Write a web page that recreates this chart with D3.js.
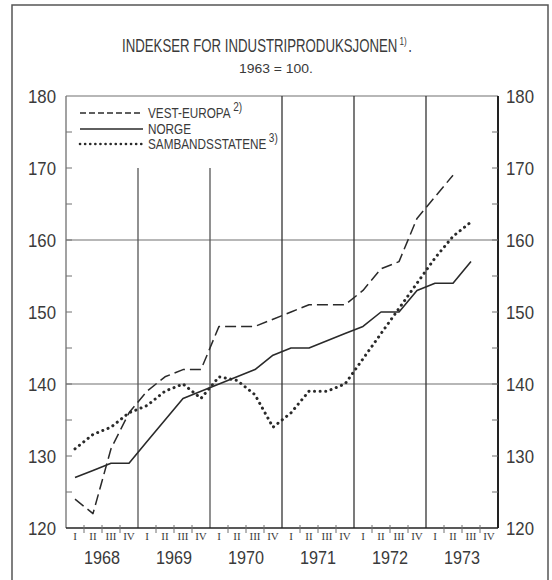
<!DOCTYPE html>
<html><head><meta charset="utf-8">
<script src="https://cdn.jsdelivr.net/npm/d3@7"></script>
<style>
html,body{margin:0;padding:0;background:#fff;}
text{font-family:"Liberation Sans","DejaVu Sans Condensed",sans-serif;fill:#3a3a3a;}
text.q{font-family:"Liberation Serif","DejaVu Serif",serif;}
</style></head>
<body>
<svg id="chart" width="552" height="580"></svg>
<script>
const years = [1968, 1969, 1970, 1971, 1972, 1973];
const quarters = ["I", "II", "III", "IV"];
const yTicks = [120, 130, 140, 150, 160, 170, 180];
const seriesNames = ["VEST-EUROPA", "NORGE", "SAMBANDSSTATENE"];
const seriesNotes = ["2)", "", "3)"];
const vestEuropa = [124,122,131,136, 139,141,142,142, 148,148,148,149, 150,151,151,151, 153,156,157,163, 166,169];
const norge = [127,128,129,129, 132,135,138,139, 140,141,142,144, 145,145,146,147, 148,150,150,153, 154,154,157];
const sambandsstatene = [131,133,134,136, 137,139,140,138, 141,140.5,138.5,134, 136,139,139,140, 143.5,147,150.5,154, 157.5,160.5,162.5];

const svg = d3.select("#chart");
const x = d3.scaleLinear().domain([0, years.length * 4]).range([66, 498]);
const y = d3.scaleLinear().domain([120, 180]).range([528, 96]);
const ink = "#2a2a2a", grid = "#707070";

function ctext(parent, str, px, py, size, len, anchor) {
  const t = parent.append("text").attr("x", px).attr("y", py)
    .attr("text-anchor", anchor || "start").style("font-size", size + "px").text(str);
  if (len) t.attr("textLength", len).attr("lengthAdjust", "spacingAndGlyphs");
  return t;
}
function noted(parent, str, note, px, py, size, sx, noteSize, tail) {
  const t = parent.append("text").attr("x", 0).attr("y", 0)
    .attr("transform", `translate(${px},${py}) scale(${sx},1)`).style("font-size", size + "px");
  t.append("tspan").text(str);
  if (note) t.append("tspan").attr("dx", 3).attr("dy", -7).style("font-size", noteSize + "px").text(note);
  if (tail) t.append("tspan").attr("dx", 2).attr("dy", 7).text(tail);
  return t;
}

// outer frame
svg.append("path").attr("d", "M12,590 L12,5 L548,5 L548,590")
  .attr("fill", "none").attr("stroke", "#555").attr("stroke-width", 1.5);

// title
noted(svg, "INDEKSER FOR INDUSTRIPRODUKSJONEN", "1)", 122, 52, 18, 0.735, 11, ".");
ctext(svg, "1963 = 100.", 276, 73, 12, 74, "middle");

// horizontal grid lines at 140, 160, and top border at 180
[140, 160, 180].forEach(v => {
  svg.append("line").attr("x1", x(0)).attr("x2", x(24)).attr("y1", y(v)).attr("y2", y(v))
    .attr("stroke", grid).attr("stroke-width", 1.1);
});
// vertical year lines
years.slice(1).forEach((yr, i) => {
  const xi = x((i + 1) * 4);
  svg.append("line").attr("x1", xi).attr("x2", xi)
    .attr("y1", i < 2 ? y(170) : y(180)).attr("y2", y(120))
    .attr("stroke", i < 2 ? "#555" : "#333").attr("stroke-width", 1.3);
});

// axes lines
svg.append("line").attr("x1", x(0)).attr("x2", x(0)).attr("y1", y(180)).attr("y2", y(120))
  .attr("stroke", grid).attr("stroke-width", 1.3);
svg.append("line").attr("x1", x(24)).attr("x2", x(24)).attr("y1", y(180)).attr("y2", y(120))
  .attr("stroke", "#222").attr("stroke-width", 2);
svg.append("line").attr("x1", x(0)).attr("x2", x(24)).attr("y1", y(120)).attr("y2", y(120))
  .attr("stroke", "#222").attr("stroke-width", 1.6);

// y ticks every 5 (inward), labels every 10
d3.range(125, 180, 5).forEach(v => {
  svg.append("line").attr("x1", x(0)).attr("x2", x(0) + 6).attr("y1", y(v)).attr("y2", y(v))
    .attr("stroke", grid).attr("stroke-width", 1);
  svg.append("line").attr("x1", x(24) - 6).attr("x2", x(24)).attr("y1", y(v)).attr("y2", y(v))
    .attr("stroke", grid).attr("stroke-width", 1);
});
yTicks.forEach(v => {
  ctext(svg, v, 56, y(v) + 7, 19, 28, "end");
  ctext(svg, v, 506, y(v) + 7, 19, 28, "start");
});

// x quarter ticks & labels
d3.range(1, 24).forEach(i => {
  if (i % 4 === 0) return;
  svg.append("line").attr("x1", x(i)).attr("x2", x(i)).attr("y1", y(120) - 3).attr("y2", y(120) + 5)
    .attr("stroke", grid).attr("stroke-width", 1);
});
years.forEach((yr, yi) => {
  quarters.forEach((q, qi) => {
    ctext(svg, q, x(yi * 4 + qi + 0.5), 540, 11, null, "middle").attr("class", "q");
  });
  ctext(svg, yr, x(yi * 4 + 2), 564, 18, 36, "middle");
});

// series
const line = d3.line().x((d, i) => x(i + 0.5)).y(d => y(d));
const styles = [
  {data: vestEuropa, dash: "11,5", width: 1.5, cap: "butt"},
  {data: norge, dash: null, width: 1.6, cap: "butt"},
  {data: sambandsstatene, dash: "0.1,5.5", width: 3, cap: "round"}
];
styles.forEach(s => {
  svg.append("path").datum(s.data).attr("d", line).attr("fill", "none")
    .attr("stroke", ink).attr("stroke-width", s.width)
    .attr("stroke-dasharray", s.dash).attr("stroke-linecap", s.cap)
    .attr("stroke-linejoin", "round");
});

// legend
const legY = [113, 129, 144];
styles.forEach((s, i) => {
  svg.append("line").attr("x1", 80).attr("x2", 143).attr("y1", legY[i]).attr("y2", legY[i])
    .attr("stroke", ink).attr("stroke-width", i === 2 ? 2.6 : 1.3)
    .attr("stroke-dasharray", i === 0 ? "6,3" : (i === 2 ? "0.1,5" : null))
    .attr("stroke-linecap", s.cap);
  noted(svg, seriesNames[i], seriesNotes[i], 148, legY[i] + 5, 14, 0.84, 12, null);
});
</script>
</body></html>
